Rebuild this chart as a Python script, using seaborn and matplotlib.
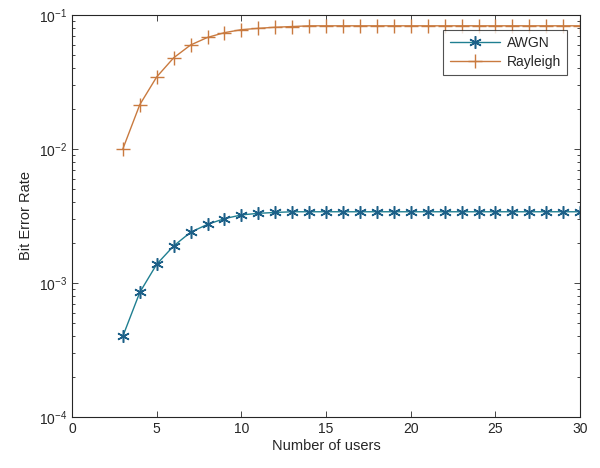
import numpy as np
import pandas as pd
import matplotlib
matplotlib.use("Agg")
import matplotlib.pyplot as plt
import seaborn as sns
from matplotlib.ticker import LogLocator, NullFormatter, MultipleLocator

users = list(range(3, 31))
awgn = [4.0e-4, 8.5e-4, 1.38e-3, 1.89e-3, 2.39e-3, 2.74e-3, 3.02e-3, 3.22e-3,
        3.31e-3, 3.36e-3] + [3.40e-3] * 18
rayleigh = [1.0e-2, 2.14e-2, 3.45e-2, 4.79e-2, 5.97e-2, 6.8e-2, 7.38e-2, 7.77e-2,
            7.95e-2, 8.1e-2, 8.2e-2] + [8.3e-2] * 17

df = pd.DataFrame({
    "users": users * 2,
    "ber": awgn + rayleigh,
    "channel": ["AWGN"] * len(users) + ["Rayleigh"] * len(users),
})

sns.set_style("ticks")
plt.rcParams['font.family'] = ['Liberation Sans', 'DejaVu Sans']

fig = plt.figure(figsize=(6, 4.68), dpi=100)
ax = fig.add_axes([0.12, 0.109, 0.847, 0.859])

palette = {"AWGN": "#1f7f91", "Rayleigh": "#c97a3f"}
for ch in ["AWGN", "Rayleigh"]:
    sub = df[df.channel == ch]
    if ch == "AWGN":
        sns.lineplot(data=sub, x="users", y="ber", ax=ax, color=palette[ch],
                     marker=(6, 2, 0), markersize=9, markeredgewidth=1.1,
                     mec="#1d6088", linewidth=1.0, label=ch)
    else:
        sns.lineplot(data=sub, x="users", y="ber", ax=ax, color=palette[ch],
                     marker="+", markersize=10, markeredgewidth=1.0,
                     mec=palette[ch], linewidth=1.0, label=ch)

ax.set_yscale("log")
ax.set_xlim(0, 30)
ax.set_ylim(1e-4, 1e-1)
ax.xaxis.set_major_locator(MultipleLocator(5))
ax.yaxis.set_major_locator(LogLocator(base=10, numticks=10))
ax.yaxis.set_minor_locator(LogLocator(base=10, subs=np.arange(2, 10), numticks=10))
ax.yaxis.set_minor_formatter(NullFormatter())
ax.tick_params(which="both", direction="in", top=True, right=True,
               labelsize=10, colors="#262626", width=0.6)
ax.tick_params(which="major", length=4)
ax.tick_params(which="minor", length=2)
for s in ax.spines.values():
    s.set_linewidth(0.8)
    s.set_color("#262626")

ax.set_xlabel("Number of users", fontsize=10.5, color="#262626", labelpad=2)
ax.set_ylabel("Bit Error Rate", fontsize=10.5, color="#262626", labelpad=4)

leg = ax.legend(loc="upper right", bbox_to_anchor=(0.974, 0.963), borderaxespad=0,
                fontsize=10, frameon=True, fancybox=False, edgecolor="#262626",
                borderpad=0.45, handlelength=3.6, labelspacing=0.35, handletextpad=0.5)
leg.get_frame().set_linewidth(0.8)

fig.savefig("out.png", dpi=100)
